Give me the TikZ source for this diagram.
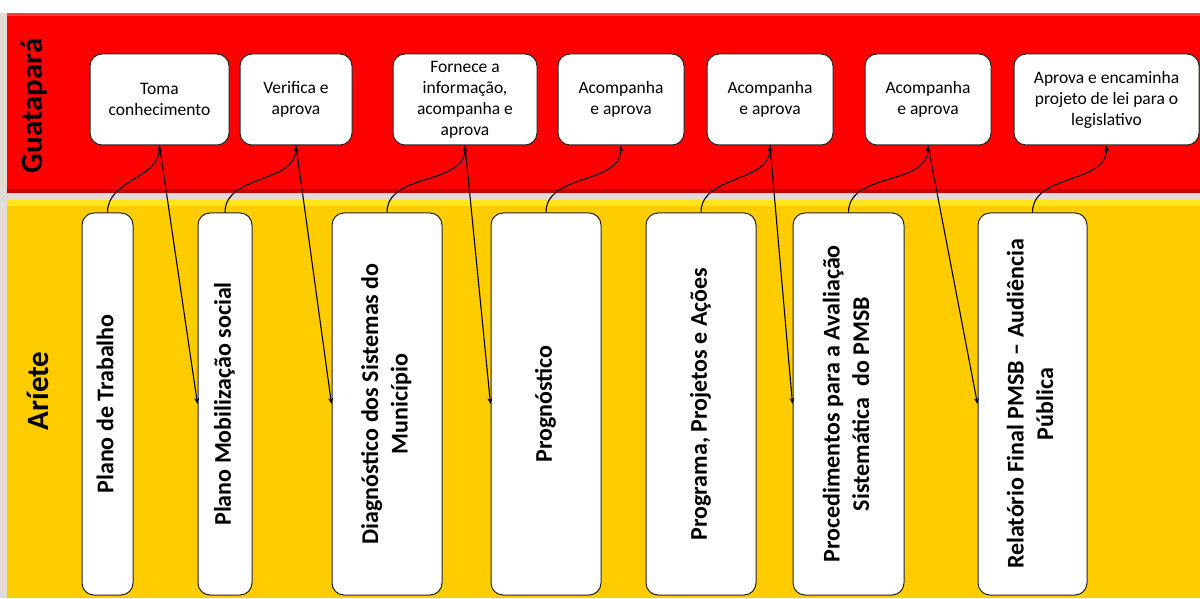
\documentclass[tikz,border=0pt]{standalone}
\usepackage{fontspec}
\setmainfont{Carlito}
\usepackage{graphicx}
\usetikzlibrary{arrows.meta,calc}

\definecolor{bandgray}{HTML}{E0DCD5}
\definecolor{bandred}{HTML}{FE0000}
\definecolor{bandredhi}{HTML}{FF3A3A}
\definecolor{bandredlo}{HTML}{CC0000}
\definecolor{bandyellow}{HTML}{FFCC00}
\definecolor{bandyellowhi}{HTML}{FFE41A}

\newcommand{\vlabel}[1]{\rotatebox{90}{\begin{tabular}{@{}c@{}}#1\end{tabular}}}

\begin{document}
\begin{tikzpicture}
  [
    x=1pt, y=1pt,
    task/.style =
      {draw=black!85, line width=1pt, fill=white, rounded corners=12pt,
       align=center, inner sep=1pt, minimum height=91pt,
       font=\fontsize{17.5}{21}\selectfont},
    stage/.style =
      {draw=black!85, line width=1pt, fill=white, rounded corners=12pt,
       inner sep=0pt, minimum height=382pt,
       font=\fontsize{24}{29.5}\selectfont\bfseries},
    actor/.style =
      {rotate=90, inner sep=0pt, font=\fontsize{31}{37}\selectfont\bfseries},
    uarrow/.style =
      {-{Stealth[length=6pt,width=5pt]}, line width=1.1pt},
    darrow/.style =
      {-{Stealth[length=6pt,width=5pt]}, line width=1.1pt}
  ]

\useasboundingbox (0,0) rectangle (1200,598);

\fill[bandgray] (0,0) rectangle (1200,585);
\fill[bandred] (7,405) rectangle (1200,585);
\fill[bandredhi] (7,582) rectangle (1200,585);
\fill[bandredlo] (7,405) rectangle (1200,409);
\fill[bandyellow] (7,0) rectangle (1200,398);
\fill[bandyellowhi] (7,392) rectangle (1200,398);

\node[actor] (g) at (34,492) {Guatapará};
\node[actor] (a) at (38,207) {Aríete};

\node[task, minimum width=139pt] (t1) at (159.5,498.5) {Toma\\conhecimento};
\node[task, minimum width=112pt] (t2) at (296,498.5) {Verifica e\\aprova};
\node[task, minimum width=144pt] (t3) at (465,498.5) {Fornece a\\informação,\\acompanha e\\aprova};
\node[task, minimum width=126pt] (t4) at (621,498.5) {Acompanha\\e aprova};
\node[task, minimum width=126pt] (t5) at (770,498.5) {Acompanha\\e aprova};
\node[task, minimum width=126pt] (t6) at (928,498.5) {Acompanha\\e aprova};
\node[task, minimum width=185pt] (t7) at (1106.5,498.5) {Aprova e encaminha\\projeto de lei para o\\legislativo};

\node[stage, minimum width=51pt] (s1) at (107.5,194) {\vlabel{Plano de Trabalho}};
\node[stage, minimum width=54pt] (s2) at (225,194) {\vlabel{Plano Mobilização social}};
\node[stage, minimum width=110pt] (s3) at (387,194) {\vlabel{Diagnóstico dos Sistemas do\\Município}};
\node[stage, minimum width=110pt] (s4) at (546,194) {\vlabel{Prognóstico}};
\node[stage, minimum width=110pt] (s5) at (701,194) {\vlabel{Programa, Projetos e Ações}};
\node[stage, minimum width=111pt] (s6) at (848.5,194) {\vlabel{Procedimentos para a Avaliação\\Sistemática\ \ do PMSB}};
\node[stage, minimum width=109pt] (s7) at (1032.5,194) {\vlabel{Relatório Final PMSB – Audiência\\Pública}};

\draw [uarrow] (s1.north) to[out=90, in=-90] (t1.south);
\draw [uarrow] (s2.north) to[out=90, in=-90] (t2.south);
\draw [uarrow] (s3.north) to[out=90, in=-90] (t3.south);
\draw [uarrow] (s4.north) to[out=90, in=-90] (t4.south);
\draw [uarrow] (s5.north) to[out=90, in=-90] (t5.south);
\draw [uarrow] (s6.north) to[out=90, in=-90] (t6.south);
\draw [uarrow] (s7.north) to[out=90, in=-90] (t7.south);

\draw [darrow] (t1.south) -- (s2.west);
\draw [darrow] (t2.south) -- (s3.west);
\draw [darrow] (t3.south) -- (s4.west);
\draw [darrow] (t5.south) -- (s6.west);
\draw [darrow] (t6.south) -- (s7.west);

\end{tikzpicture}
\end{document}
